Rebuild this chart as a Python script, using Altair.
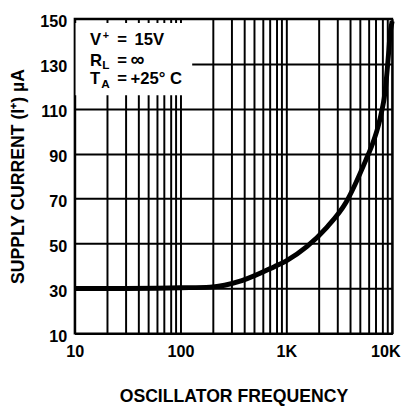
import altair as alt
import pandas as pd

# Curve
freq = [10, 30, 60, 100, 190, 380, 770, 1000, 1560, 2400, 3670, 5600, 6500, 7200, 7700, 8100, 8400, 8700, 9000, 9300, 9500, 10000]
curr = [30, 30, 30.1, 30.3, 30.6, 33.5, 39.7, 42.3, 48.6, 57.1, 68.4, 86.8, 94.2, 100.5, 105.7, 110.5, 114.6, 120.5, 128, 136, 142, 149]

x_grid = [10, 20, 30, 40, 50, 60, 70, 80, 90,
          100, 200, 300, 400, 500, 600, 700, 800, 900,
          1000, 2000, 3000, 4000, 5000, 6000, 7000, 8000, 9000, 10000]
y_grid = [10, 30, 50, 70, 90, 110, 130, 150]

# Annotation (data units)
note_text = ["V", "+", "=", "15V", "R", "L", "=", "\u221e", "T", "A", "=", "+25\u00b0 C"]
note_f = [14, 18.4, 25.3, 36.7, 14, 18.2, 25.3, 33.7, 14, 17.8, 25.3, 33.7]
note_v = [138.2, 141.0, 138.2, 138.2, 129.1, 127.6, 129.1, 129.1, 120.8, 119.4, 120.8, 120.8]
note_size = [17, 11, 17, 17, 17, 12, 17, 20, 17, 12, 17, 17]

box_f = [10.2]
box_f2 = [129]
box_v = [148.2]
box_v2 = [116]

FONT = "Liberation Sans"
XT = "OSCILLATOR FREQUENCY"
YT = "SUPPLY CURRENT (I\u207a) \u00b5A"

curve = pd.DataFrame({"f": freq, "v": curr})
notes = pd.DataFrame({"f": note_f, "v": note_v, "t": note_text, "s": note_size})
box = pd.DataFrame({"f": box_f, "f2": box_f2, "v": box_v, "v2": box_v2})

xscale = alt.Scale(type="log", domain=[10, 10000], nice=False)
yscale = alt.Scale(domain=[10, 150], nice=False, zero=False)

xaxis = alt.Axis(
    values=x_grid,
    labelExpr="datum.value == 10 ? '10' : datum.value == 100 ? '100' : datum.value == 1000 ? '1K' : datum.value == 10000 ? '10K' : ''",
    ticks=False, grid=True, gridColor="black", gridWidth=2, gridOpacity=1,
    domainColor="black", domainWidth=2,
    labelFont=FONT, labelFontWeight="bold", labelFontSize=16.5, labelColor="black",
    labelPadding=11, labelFlush=False, labelOverlap=False,
    labelOffset={"condition": {"test": "datum.value == 10000", "value": -7}, "value": 0},
    titleFont=FONT, titleFontWeight="bold", titleFontSize=18, titleColor="black",
    titlePadding=28,
)
yaxis = alt.Axis(
    values=y_grid,
    ticks=False, grid=True, gridColor="black", gridWidth=2, gridOpacity=1,
    domainColor="black", domainWidth=2,
    labelFont=FONT, labelFontWeight="bold", labelFontSize=16.5, labelColor="black",
    labelPadding=8, labelOffset=3, labelOverlap=False,
    titleFont=FONT, titleFontWeight="bold", titleFontSize=18, titleColor="black",
    titlePadding=13,
)

rect = alt.Chart(box).mark_rect(color="white", opacity=1).encode(
    x=alt.X("f:Q", scale=xscale, axis=xaxis, title=XT),
    x2="f2:Q",
    y=alt.Y("v:Q", scale=yscale, axis=yaxis, title=YT),
    y2="v2:Q",
)

line = alt.Chart(curve).mark_line(color="black", strokeWidth=5, interpolate="monotone").encode(
    x=alt.X("f:Q", scale=xscale, title=XT),
    y=alt.Y("v:Q", scale=yscale, title=YT),
)

text = alt.Chart(notes).mark_text(
    font=FONT, fontWeight="bold", color="black", align="left", baseline="alphabetic"
).encode(
    x=alt.X("f:Q", scale=xscale, title=XT),
    y=alt.Y("v:Q", scale=yscale, title=YT),
    text="t:N",
    size=alt.Size("s:Q", scale=None, legend=None),
)

chart = alt.layer(rect, line, text).properties(
    width=324, height=321,
    autosize=alt.AutoSizeParams(type="none"),
    padding={"left": 68, "top": 7, "right": 9, "bottom": 70},
    background="white",
).configure_view(stroke="black", strokeWidth=2)

chart.save("out.html", embed_options={"renderer": "svg", "actions": False})
